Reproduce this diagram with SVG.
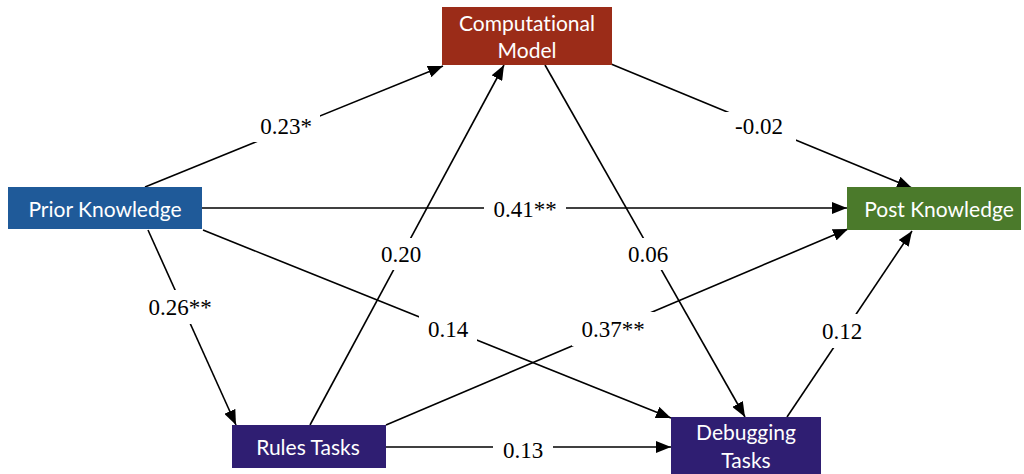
<svg xmlns="http://www.w3.org/2000/svg" width="1024" height="474" viewBox="0 0 1024 474">
<style>
.box text{font-family:Lato,"Liberation Sans",sans-serif;font-size:21px;fill:#ffffff;text-anchor:middle;font-variant-ligatures:none;font-feature-settings:"liga" 0}
.conn line{stroke:#000;stroke-width:1.6;marker-end:url(#ah)}
.lbl rect{fill:#fff}
.lbl text{font-family:"Liberation Serif","Times New Roman",serif;font-size:23px;fill:#000;text-anchor:middle}
</style>
<defs>
<marker id="ah" markerUnits="userSpaceOnUse" markerWidth="16" markerHeight="12" refX="15" refY="6" orient="auto">
<path d="M0,0 L15,6 L0,12 z" fill="#000"/>
</marker>
</defs>
<rect width="1024" height="474" fill="#fff"/>
<g id="connectors" class="conn">
<line x1="145" y1="187" x2="443" y2="66"/>
<line x1="202" y1="208" x2="847" y2="208"/>
<line x1="203" y1="230" x2="671" y2="418"/>
<line x1="148" y1="230" x2="236" y2="425"/>
<line x1="310" y1="425" x2="504" y2="65"/>
<line x1="545" y1="65" x2="745" y2="417"/>
<line x1="611" y1="64" x2="912" y2="188"/>
<line x1="386" y1="425" x2="848" y2="229"/>
<line x1="386" y1="447" x2="671" y2="447"/>
<line x1="787" y1="417" x2="912" y2="231"/>
</g>
<g id="labels" class="lbl">
<rect x="252" y="110" width="68" height="32"/><text x="286" y="134">0.23*</text>
<rect x="724" y="112" width="72" height="30"/><text x="759" y="134">-0.02</text>
<rect x="484" y="194" width="82" height="28"/><text x="525" y="217">0.41**</text>
<rect x="375" y="238" width="52" height="32"/><text x="401" y="262">0.20</text>
<rect x="622" y="238" width="52" height="32"/><text x="648" y="262">0.06</text>
<rect x="419" y="312" width="58" height="34"/><text x="448" y="337">0.14</text>
<rect x="572" y="312" width="82" height="34"/><text x="613" y="337">0.37**</text>
<rect x="141" y="290" width="78" height="34"/><text x="180" y="315">0.26**</text>
<rect x="814" y="314" width="56" height="34"/><text x="842" y="339">0.12</text>
<rect x="493" y="433" width="60" height="30"/><text x="523" y="458">0.13</text>
</g>
<g id="computational-model" class="box">
<rect x="442" y="7" width="170" height="58" fill="#9b2c18"/>
<text x="527" y="31">Computational</text>
<text x="527" y="58">Model</text>
</g>
<g id="prior-knowledge" class="box">
<rect x="8" y="187" width="194" height="42" fill="#1f5a99"/>
<text x="105" y="217">Prior Knowledge</text>
</g>
<g id="post-knowledge" class="box">
<rect x="847" y="187" width="174" height="43" fill="#4b7a2b"/>
<text x="939" y="217">Post Knowledge</text>
</g>
<g id="rules-tasks" class="box">
<rect x="232" y="425" width="154" height="43" fill="#2f1e72"/>
<text x="308" y="455">Rules Tasks</text>
</g>
<g id="debugging-tasks" class="box">
<rect x="671" y="417" width="150" height="60" fill="#2f1e72"/>
<text x="746" y="440">Debugging</text>
<text x="746" y="468">Tasks</text>
</g>
</svg>
